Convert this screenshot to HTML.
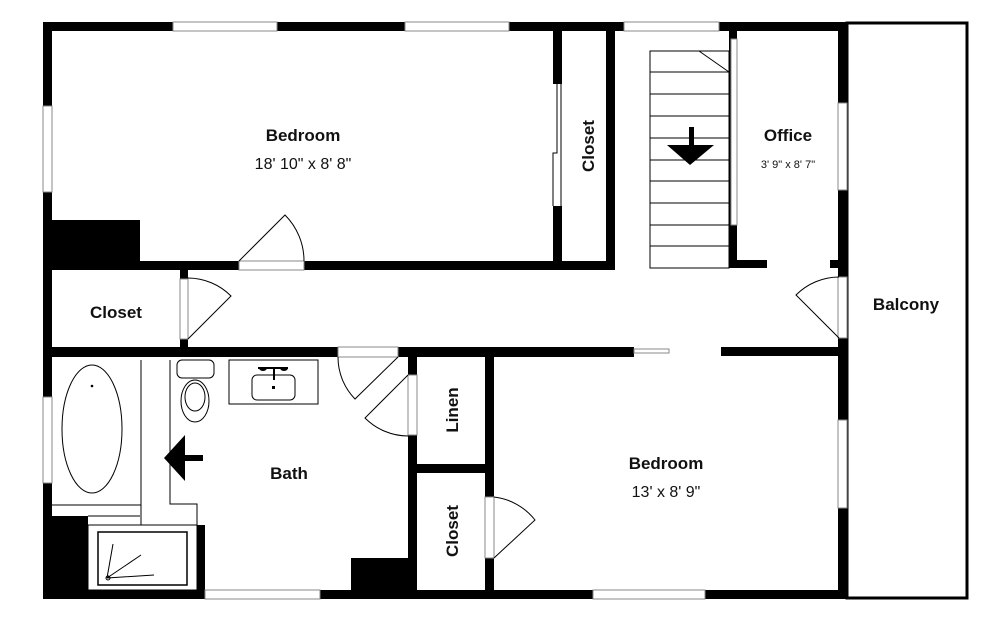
<!DOCTYPE html>
<html><head><style>html,body{margin:0;padding:0;background:#fff}svg{display:block}text{font-family:"Liberation Sans",Arial,sans-serif;fill:#111}</style></head>
<body>
<svg width="1000" height="619" viewBox="0 0 1000 619" xmlns="http://www.w3.org/2000/svg">
<rect width="1000" height="619" fill="#fff"/>
<!-- balcony -->
<rect x="847" y="23" width="120" height="575" fill="none" stroke="#000" stroke-width="3"/>
<g fill="#000">
<!-- outer walls -->
<rect x="43" y="22" width="804" height="9"/>
<rect x="43" y="22" width="9" height="577"/>
<rect x="43" y="590" width="804" height="9"/>
<rect x="838" y="22" width="9" height="577"/>
<!-- bedroom1 -->
<rect x="52" y="220" width="88" height="45"/>
<rect x="52" y="261" width="563" height="9"/>
<rect x="553" y="31" width="9" height="235"/>
<rect x="606" y="31" width="9" height="239"/>
<!-- office -->
<rect x="729" y="31" width="8" height="237"/>
<rect x="729" y="260" width="38" height="8"/>
<rect x="830" y="260" width="9" height="8"/>
<!-- closet left -->
<rect x="180" y="270" width="8" height="77"/>
<!-- hallway bottom -->
<rect x="43" y="347" width="591" height="10"/>
<rect x="721" y="347" width="126" height="9"/>
<!-- bath walls -->
<rect x="408" y="357" width="9" height="233"/>
<rect x="351" y="558" width="57" height="32"/>
<rect x="52" y="516" width="36" height="74"/>
<rect x="197" y="525" width="8" height="65"/>
<rect x="485" y="357" width="9" height="233"/>
<rect x="417" y="464" width="68" height="9"/>
</g>
<!-- windows (white gaps with thin lines) -->
<g fill="#fff" stroke="#888" stroke-width="1">
<rect x="173" y="22" width="104" height="9"/>
<rect x="405" y="22" width="104" height="9"/>
<rect x="624" y="22" width="95" height="9"/>
<rect x="43" y="106" width="9" height="86"/>
<rect x="43" y="397" width="9" height="86"/>
<rect x="205" y="590" width="115" height="9"/>
<rect x="593" y="590" width="112" height="9"/>
<rect x="838" y="103" width="9" height="87"/>
<rect x="838" y="420" width="9" height="88"/>
<rect x="239" y="261" width="65" height="9"/>
<rect x="338" y="347" width="60" height="10"/>
<rect x="180" y="279" width="8" height="60"/>
<rect x="408" y="375" width="9" height="60"/>
<rect x="485" y="497" width="9" height="61"/>
<rect x="838" y="277" width="9" height="61"/>
<rect x="553" y="84" width="9" height="122" stroke="none"/>
<rect x="731" y="39" width="6" height="186"/>
<rect x="634" y="349" width="35" height="4"/>
</g>
<g fill="none" stroke="#000" stroke-width="1">
<!-- closet sliding -->
<path d="M557 84V153H553V206"/>
<path d="M561 84V206"/>
<!-- doors -->
<path d="M239 261L285 215A65 65 0 0 1 304 261"/>
<path d="M188 339L231 296A61 61 0 0 0 188 278"/>
<path d="M398 357L355 399A60 60 0 0 1 338 357"/>
<path d="M408 375L365 418A61 61 0 0 0 408 436"/>
<path d="M494 558L535 520A61 61 0 0 0 494 497"/>
<path d="M839 338L796 295A61 61 0 0 1 839 277"/>
<!-- stairs -->
<rect x="650" y="51" width="79" height="217"/>
<path d="M650 72H729M650 94H729M650 116H729M650 138H729M650 160H729M650 181H729M650 203H729M650 225H729M650 246H729M699 51L729 72"/>
<!-- tub -->
<path d="M52 505H141V360M141 505V525M88 516H140M170 360V504H197V525M88 525H197"/>
<ellipse cx="92" cy="429" rx="30" ry="64"/>
<rect x="88" y="525" width="109" height="65"/>
<rect x="98" y="532" width="89" height="53" stroke-width="1.5"/>
<path d="M107 578L113 544M107 578L141 555M107 578L154 575"/>
<!-- toilet -->
<rect x="177" y="360" width="37" height="18" rx="5"/>
<ellipse cx="195" cy="401" rx="14" ry="21"/>
<ellipse cx="195" cy="397" rx="10" ry="14"/>
<!-- vanity -->
<rect x="229" y="360" width="89" height="44"/>
<rect x="252" y="375" width="43" height="25" rx="5"/>
</g>
<circle cx="92" cy="386" r="1.3" fill="#000"/>
<circle cx="108" cy="578" r="2" fill="none" stroke="#000"/>
<g fill="#000">
<path d="M259 368a4 3 0 1 0 8 0zM280 368a4 3 0 1 0 8 0z"/>
<rect x="258" y="367" width="30" height="2"/>
<rect x="273" y="368" width="2" height="12"/>
<rect x="272" y="386" width="3" height="3"/>
<!-- arrows -->
<rect x="689" y="127" width="5" height="19"/>
<path d="M667 145H714L690 165Z"/>
<path d="M164 458L185 435V481Z"/>
<rect x="184" y="455" width="19" height="6"/>
</g>
<g text-anchor="middle">
<text x="303" y="141" font-size="17" font-weight="bold">Bedroom</text>
<text x="303" y="169" font-size="16">18' 10" x 8' 8"</text>
<text x="116" y="318" font-size="17" font-weight="bold">Closet</text>
<text x="788" y="141" font-size="17" font-weight="bold">Office</text>
<text x="788" y="168" font-size="11">3' 9" x 8' 7"</text>
<text x="906" y="310" font-size="17" font-weight="bold">Balcony</text>
<text x="289" y="479" font-size="17" font-weight="bold">Bath</text>
<text x="666" y="469" font-size="17" font-weight="bold">Bedroom</text>
<text x="666" y="497" font-size="16">13' x 8' 9"</text>
<text transform="translate(594,146) rotate(-90)" font-size="17" font-weight="bold">Closet</text>
<text transform="translate(458,410) rotate(-90)" font-size="17" font-weight="bold">Linen</text>
<text transform="translate(458,531) rotate(-90)" font-size="17" font-weight="bold">Closet</text>
</g>
</svg>
</body></html>
